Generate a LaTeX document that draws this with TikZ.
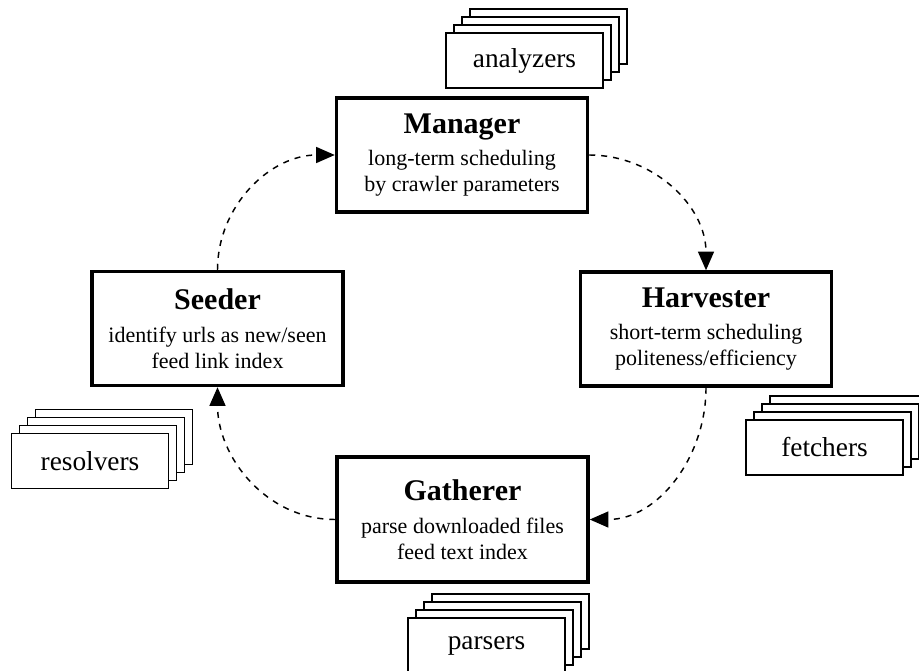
\documentclass[tikz,border=0pt]{standalone}
\usepackage{fontspec}
\setmainfont{Liberation Serif}
\usepackage{tikz}
\usetikzlibrary{arrows.meta,calc,positioning}

% a pile of four worker boxes: name, centre, label
\newcommand{\workerstack}[3]{%
  \foreach \k in {3,2,1}
    \draw[worker] ($(#2)+(-78.5+8*\k,-27.5-8*\k)$) rectangle ($(#2)+(78.5+8*\k,27.5-8*\k)$);
  \node[worker, minimum width=117.75pt, minimum height=41.25pt] (#1) at (#2) {#3};
}

\begin{document}
\begin{tikzpicture}[x=0.75pt, y=-0.75pt,
    stage/.style={draw, line width=2.6pt, fill=white, inner sep=0pt,
      minimum width=188.25pt, minimum height=85.5pt, align=center,
      font=\fontsize{16.5}{19.5}\selectfont},
    worker/.style={draw, line width=1.3pt, fill=white, inner sep=0pt,
      font=\fontsize{20.5}{24}\selectfont},
    flow/.style={dash pattern=on 4.5pt off 4.5pt, line width=1.1pt,
      -{Triangle[length=14pt,width=12pt]}}]
    \useasboundingbox (0,0) rectangle (919,670);

    % the four stages of the crawl
    \node[stage] (manager) at (462,155)
      {{\bfseries\fontsize{22.5}{26}\selectfont Manager}\\[5pt]
       long-term scheduling\\ by crawler parameters};
    \node[stage] (harvester) at (706,329)
      {{\bfseries\fontsize{22.5}{26}\selectfont Harvester}\\[5pt]
       short-term scheduling\\ politeness/efficiency};
    \node[stage] (seeder) at (217.5,328.5)
      {{\bfseries\fontsize{22.5}{26}\selectfont Seeder}\\[5pt]
       identify urls as new/seen\\ feed link index};
    \node[stage, minimum height=93.75pt] (gatherer) at (462.5,519.5)
      {{\bfseries\fontsize{22.5}{26}\selectfont Gatherer}\\[5pt]
       parse downloaded files\\ feed text index};

    % worker piles
    \workerstack{analyzers}{524.5,60.5}{analyzers}
    \workerstack{fetchers}{824.5,447.5}{fetchers}
    \workerstack{resolvers}{90,461}{resolvers}
    \workerstack{parsers}{486.5,645.5}{parsers}

    % the cycle
    \draw[flow] (seeder.north) to[out=90,in=180] (manager.west);
    \draw[flow] (manager.east) to[out=0,in=90] (harvester.north);
    \draw[flow] (harvester.south) to[out=-90,in=0] (gatherer.east);
    \draw[flow] (gatherer.west) to[out=180,in=-90] (seeder.south);
\end{tikzpicture}
\end{document}
